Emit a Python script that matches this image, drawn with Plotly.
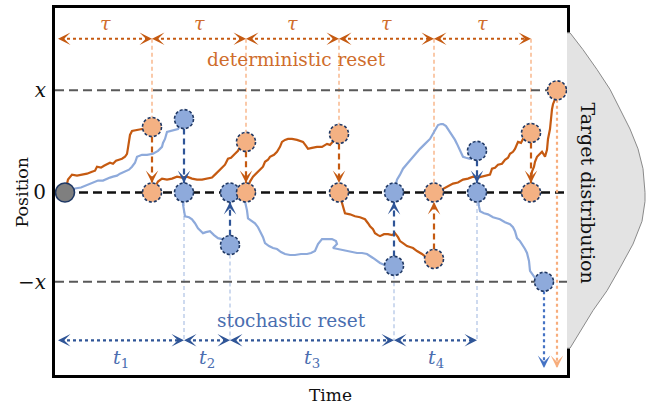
import plotly.graph_objects as go

# ---------------- data (time units / position units) ----------------
X_UP = 103          # position level "x"
X_DN = -90          # position level "-x"
T_START = 0

TAU_EDGES = [-7, 87, 181, 274, 369, 466]        # deterministic resets every tau
DET_PRE = [66, 51, 59, -67, 60]                 # position right before each deterministic reset
DET_FINAL_T, DET_FINAL_P = 492, 103

STO_EDGES = [-7, 119, 165, 329, 412]            # stochastic reset times
STO_PRE = [74, -53, -74, 42]                    # position right before each stochastic reset
STO_FINAL_T, STO_FINAL_P = 479, -90

ARROW_TOP_P = 155      # level of tau arrows
ARROW_BOT_P = -149     # level of t_i arrows
BOTTOM_P = -177

# deterministic-reset trajectory (orange), one list per segment
ORANGE_T = [
    [0, 3, 7, 12, 17, 22, 27, 30, 32, 36, 39, 43, 45, 48, 51, 54, 57, 60, 62, 63, 64, 65, 67, 72, 77, 82, 87],
    [87, 93, 97, 102, 107, 112, 117, 122, 127, 132, 137, 142, 147, 150, 153, 156, 160, 163, 166, 170, 173, 175, 178, 181],
    [181, 185, 188, 190, 193, 195, 198, 200, 203, 205, 209, 212, 215, 217, 220, 223, 227, 232, 235, 238, 241, 243, 247, 252, 257, 262, 265, 268, 271, 274],
    [274, 277, 280, 285, 290, 295, 300, 303, 305, 308, 310, 313, 315, 319, 323, 327, 330, 333, 335, 338, 342, 345, 348, 352, 357, 362, 368],
    [369, 373, 377, 382, 388, 393, 398, 403, 408, 413, 418, 422, 425, 427, 430, 433, 437, 440, 443, 445, 448, 450, 453, 456, 458, 462, 466],
    [466, 466, 467, 469, 470, 472, 474, 477, 479, 480, 482, 483, 485, 486, 487, 488, 490, 492],
]
ORANGE_P = [
    [0, 13, 18, 17, 18, 19, 21, 22, 26, 25, 27, 29, 30, 29, 32, 33, 34, 36, 39, 45, 51, 58, 62, 63, 64, 63, 66],
    [0, 11, 14, 13, 14, 16, 15, 16, 14, 13, 13, 14, 15, 18, 21, 24, 28, 34, 35, 39, 42, 46, 48, 51],
    [0, 11, 16, 18, 20, 23, 26, 31, 33, 36, 38, 41, 46, 51, 53, 54, 54, 53, 52, 51, 47, 44, 45, 46, 46, 49, 48, 51, 55, 59],
    [0, -12, -21, -22, -24, -25, -27, -31, -34, -37, -41, -43, -44, -42, -42, -43, -41, -45, -49, -51, -54, -55, -56, -59, -62, -66, -67],
    [0, 2, 3, 6, 9, 10, 13, 14, 16, 15, 16, 17, 18, 24, 25, 28, 29, 33, 35, 39, 41, 44, 51, 50, 54, 56, 60],
    [0, 14, 21, 26, 31, 36, 38, 41, 38, 36, 43, 54, 64, 78, 84, 89, 94, 103],
]

# stochastic-reset trajectory (blue)
BLUE_T = [
    [0, 5, 10, 16, 23, 28, 33, 38, 42, 45, 48, 52, 55, 60, 64, 67, 70, 72, 77, 82, 88, 93, 97, 98, 100, 102, 105, 108, 113, 119],
    [119, 118, 119, 120, 124, 127, 130, 133, 136, 138, 141, 145, 149, 153, 157, 160, 165],
    [165, 175, 180, 182, 183, 187, 190, 193, 195, 198, 200, 204, 208, 212, 216, 220, 225, 230, 236, 242, 246, 250, 253, 255, 257, 262, 267, 271, 272, 268, 273, 278, 285, 292, 297, 302, 308, 315, 322, 329],
    [329, 332, 335, 338, 343, 348, 352, 355, 360, 365, 369, 373, 376, 378, 381, 383, 386, 388, 390, 392, 395, 398, 401, 405, 409, 412],
    [412, 413, 414, 415, 419, 423, 428, 435, 440, 445, 448, 450, 452, 455, 457, 460, 462, 463, 464, 465, 468, 470, 474, 479],
]
BLUE_P = [
    [0, 2, 4, 5, 8, 10, 12, 12, 14, 15, 16, 17, 19, 21, 23, 26, 30, 36, 38, 38, 39, 42, 46, 50, 54, 61, 62, 63, 64, 74],
    [0, -12, -18, -24, -25, -27, -31, -36, -39, -41, -40, -39, -43, -46, -47, -49, -53],
    [0, -4, -9, -18, -26, -29, -31, -35, -39, -45, -51, -54, -56, -57, -60, -62, -63, -63, -62, -62, -61, -59, -52, -49, -47, -47, -47, -49, -52, -56, -57, -58, -59, -61, -61, -62, -66, -71, -74, -74],
    [0, 13, 18, 24, 30, 36, 40, 44, 49, 54, 61, 68, 69, 69, 67, 64, 59, 56, 53, 49, 42, 36, 35, 34, 36, 42],
    [0, -9, -14, -19, -21, -22, -25, -27, -30, -32, -35, -39, -46, -49, -52, -57, -61, -65, -69, -79, -83, -86, -88, -90],
]

# target distribution outline (density, position)
DIST_D = [0, 3, 16, 30, 43, 53, 63, 71, 76, 78, 78, 75, 66, 53, 40, 26, 16, 8, 3, 0]
DIST_P = [161, 161, 144, 124, 104, 84, 64, 44, 24, 0, -9, -29, -52, -76, -99, -119, -136, -149, -157, -157]

TAU_LABEL = "τ"
T_LABELS = ["<i>t</i><sub>1</sub>", "<i>t</i><sub>2</sub>", "<i>t</i><sub>3</sub>", "<i>t</i><sub>4</sub>"]
Y_TICKVALS = [X_UP, 0, X_DN]
Y_TICKTEXT = ["<i>x</i>", "0", "−<i>x</i>"]

# ---------------- styles ----------------
OR_DARK = "#c55a11"
OR_TEXT = "#cf6d2c"
OR_FILL = "#f4b183"
OR_LIGHT = "#f7ad7c"
BL_PATH = "#8eaadb"
BL_FILL = "#8eaadb"
BL_DARK = "#2f5597"
BL_TEXT = "#4a6eb0"
BL_LIGHT = "#b4c7e7"
NAVY = "#1f3864"
SERIF = "DejaVu Serif"
R = 9.5

fig = go.Figure()
ann = []
shapes = []


def line(xs, ys, color, width, dash=None, xaxis="x"):
    fig.add_trace(go.Scatter(x=xs, y=ys, mode="lines", xaxis=xaxis, yaxis="y",
                             line=dict(color=color, width=width, dash=dash),
                             hoverinfo="skip", showlegend=False))


def head(x, y, dx, dy, color, w=1.6):
    L = 5
    ann.append(dict(x=x, y=y, xref="x", yref="y", ax=-dx * L, ay=dy * L,
                    text="", showarrow=True, arrowhead=3, arrowsize=1.3,
                    arrowwidth=w, arrowcolor=color, standoff=0))


def circle(x, y, fill, dash="3px,2px", border=NAVY):
    shapes.append(dict(type="circle", xref="x", yref="y", xsizemode="pixel", ysizemode="pixel",
                       xanchor=x, yanchor=y, x0=-R, x1=R, y0=-R, y1=R,
                       fillcolor=fill, line=dict(color=border, width=1.6, dash=dash), layer="above"))


# target distribution
fig.add_trace(go.Scatter(x=DIST_D, y=DIST_P, xaxis="x2", yaxis="y", mode="lines",
                         fill="tozerox", fillcolor="#e3e3e3",
                         line=dict(color="#8a8a8a", width=1), hoverinfo="skip", showlegend=False))

# light vertical guide lines
for t, p in zip(TAU_EDGES[1:], DET_PRE):
    line([t, t], [ARROW_TOP_P, max(p, 0) + R], OR_LIGHT, 1.3, "4px,3px")
for t, p in zip(STO_EDGES[1:], STO_PRE):
    line([t, t], [min(p, 0) - R, ARROW_BOT_P], BL_LIGHT, 1.3, "4px,3px")

# level lines
line([-10, 502], [X_UP, X_UP], "#595959", 2, "9px,5px")
line([-10, 502], [X_DN, X_DN], "#595959", 2, "9px,5px")
line([T_START, 502], [0, 0], "#111111", 2.4, "9px,5px")

# trajectories
for ts, ps in zip(BLUE_T, BLUE_P):
    line(ts, ps, BL_PATH, 2.2)
for ts, ps in zip(ORANGE_T, ORANGE_P):
    line(ts, ps, OR_DARK, 2.2)

# reset arrows (vertical)
for t, p in zip(TAU_EDGES[1:], DET_PRE):
    s = 1 if p > 0 else -1
    line([t, t], [p - s * R, s * R], OR_DARK, 2.2, "6px,4px")
    head(t, s * R, 0, -s, OR_DARK)
for t, p in zip(STO_EDGES[1:], STO_PRE):
    s = 1 if p > 0 else -1
    line([t, t], [p - s * R, s * R], BL_DARK, 2.2, "6px,4px")
    head(t, s * R, 0, -s, BL_DARK)

# final dotted arrows to the distribution
line([STO_FINAL_T, STO_FINAL_T], [STO_FINAL_P - R, BOTTOM_P], "#4472c4", 2.2, "dot")
head(STO_FINAL_T, BOTTOM_P, 0, -1, "#4472c4")
line([DET_FINAL_T, DET_FINAL_T], [DET_FINAL_P - R, BOTTOM_P], OR_LIGHT, 2.2, "dot")
head(DET_FINAL_T, BOTTOM_P, 0, -1, OR_LIGHT)

# tau interval arrows
for a, b in zip(TAU_EDGES[:-1], TAU_EDGES[1:]):
    line([a + 3, b - 3], [ARROW_TOP_P, ARROW_TOP_P], OR_DARK, 2.2, "dot")
    head(a, ARROW_TOP_P, -1, 0, OR_DARK)
    head(b, ARROW_TOP_P, 1, 0, OR_DARK)
    ann.append(dict(x=(a + b) / 2, y=171, xref="x", yref="y", text="<i>" + TAU_LABEL + "</i>",
                    showarrow=False, font=dict(family=SERIF, size=19, color=OR_TEXT)))

# t_i interval arrows
for (a, b), lab in zip(zip(STO_EDGES[:-1], STO_EDGES[1:]), T_LABELS):
    line([a + 3, b - 3], [ARROW_BOT_P, ARROW_BOT_P], BL_DARK, 2.2, "dot")
    head(a, ARROW_BOT_P, -1, 0, BL_DARK)
    head(b, ARROW_BOT_P, 1, 0, BL_DARK)
    ann.append(dict(x=(a + b) / 2, y=-167, xref="x", yref="y", text=lab,
                    showarrow=False, font=dict(family=SERIF, size=19, color=BL_TEXT)))

# circles
circle(T_START, 0, "#7f7f7f", dash="solid")
for t, p in zip(STO_EDGES[1:], STO_PRE):
    circle(t, p, BL_FILL)
    circle(t, 0, BL_FILL)
circle(STO_FINAL_T, STO_FINAL_P, BL_FILL)
for t, p in zip(TAU_EDGES[1:], DET_PRE):
    circle(t, p, OR_FILL)
    circle(t, 0, OR_FILL)
circle(DET_FINAL_T, DET_FINAL_P, OR_FILL)

# text labels
ann.append(dict(x=231, y=134, xref="x", yref="y", text="deterministic reset", showarrow=False,
                font=dict(family=SERIF, size=18.5, color=OR_TEXT)))
ann.append(dict(x=226, y=-129, xref="x", yref="y", text="stochastic reset", showarrow=False,
                font=dict(family=SERIF, size=18.5, color=BL_TEXT)))
ann.append(dict(x=21, y=0, xref="x2", yref="y", text="Target distribution", showarrow=False,
                textangle=90, font=dict(family=SERIF, size=19, color="#111111")))
ann.append(dict(x=0, y=0, xref="paper", yref="y", xanchor="center", xshift=-33, text="Position",
                showarrow=False, textangle=-90, font=dict(family=SERIF, size=17.5, color="#111111")))
ann.append(dict(x=265, y=0, xref="x", yref="paper", yanchor="middle", yshift=-20, text="Time",
                showarrow=False, font=dict(family=SERIF, size=17, color="#111111")))

XD = 512 / 595
fig.update_layout(
    width=660, height=409,
    margin=dict(l=55, r=10, t=5, b=34),
    paper_bgcolor="white", plot_bgcolor="white",
    xaxis=dict(domain=[0, XD], range=[-10, 502], showline=True, linewidth=3, linecolor="black",
               mirror=True, showticklabels=False, showgrid=False, zeroline=False, ticks=""),
    xaxis2=dict(domain=[XD, 1], range=[0, 83], anchor="y", visible=False),
    yaxis=dict(range=[-184, 186], showline=True, linewidth=3, linecolor="black", mirror=True,
               tickvals=Y_TICKVALS, ticktext=Y_TICKTEXT, showgrid=False, zeroline=False, ticks="",
               ticklabelstandoff=2, tickfont=dict(family=SERIF, size=20, color="#111111")),
    shapes=shapes, annotations=ann,
)

fig.write_html("out.html", config={"displayModeBar": False},
               post_script="document.body.style.margin='0px';")
